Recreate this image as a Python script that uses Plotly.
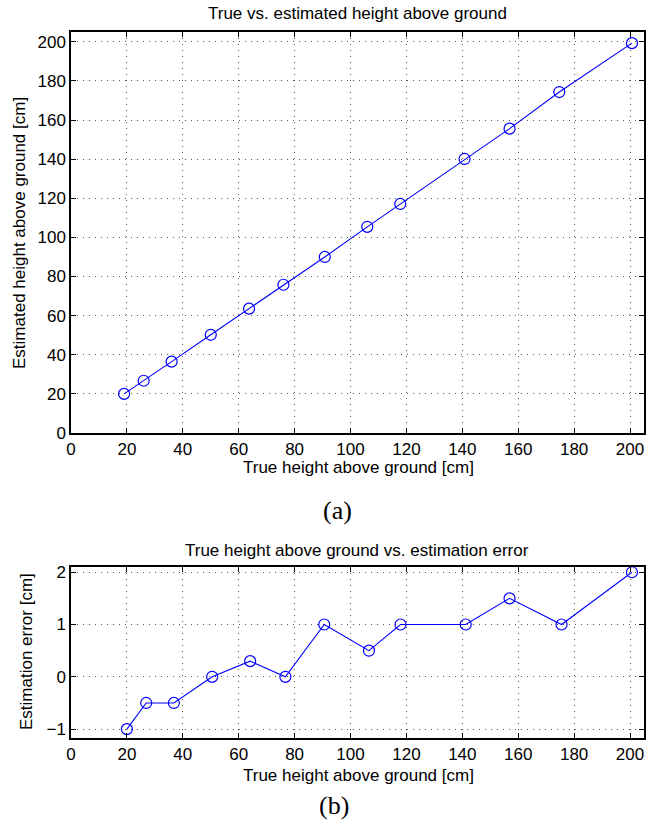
import plotly.graph_objects as go

# Data
true_height = [19, 26, 36, 50, 63.7, 76, 90.8, 106, 117.8, 140.8, 156.9, 174.7, 200.7]
est_height = [20, 26.7, 36.5, 50.2, 63.6, 75.8, 90, 105.4, 117.1, 140.1, 155.6, 174.3, 199.3]
err_x = [20, 26.9, 36.8, 50.5, 64.1, 76.7, 90.6, 106.6, 117.9, 141.2, 156.9, 175.5, 200.7]
err_y = [-1, -0.5, -0.5, 0, 0.3, 0, 1, 0.5, 1, 1, 1.5, 1, 2]

x_ticks = [0, 20, 40, 60, 80, 100, 120, 140, 160, 180, 200]
y1_ticks = [0, 20, 40, 60, 80, 100, 120, 140, 160, 180, 200]
y2_ticks = [-1, 0, 1, 2]

W, H = 646, 822
BLUE = "rgb(0,0,255)"
FONT = "Liberation Sans, Arial, Helvetica, sans-serif"
SERIF = "Liberation Serif, DejaVu Serif, serif"
FS = 17

def px(x):
    return x / W

def py(y):
    return 1 - y / H

fig = go.Figure()
marker = dict(symbol="circle-open", size=11, color=BLUE, line=dict(width=1.2, color=BLUE))
fig.add_trace(go.Scatter(x=true_height, y=est_height, mode="lines+markers",
                         line=dict(color=BLUE, width=1.1), marker=marker,
                         xaxis="x", yaxis="y", showlegend=False, cliponaxis=False))
fig.add_trace(go.Scatter(x=err_x, y=err_y, mode="lines+markers",
                         line=dict(color=BLUE, width=1.1), marker=marker,
                         xaxis="x2", yaxis="y2", showlegend=False, cliponaxis=False))

axis_common = dict(
    showline=True, linecolor="black", linewidth=1.5, mirror="ticks",
    ticks="inside", ticklen=5, tickcolor="black", tickwidth=1,
    showgrid=True, gridcolor="rgba(0,0,0,0.65)", griddash="1px,5px", gridwidth=1,
    zeroline=False, tickfont=dict(family=FONT, size=FS, color="black"),
)

fig.update_layout(
    width=W, height=H,
    margin=dict(l=0, r=0, t=0, b=0, autoexpand=False),
    paper_bgcolor="white", plot_bgcolor="white",
    xaxis=dict(domain=[px(71), px(644)], range=[0, 205], tickvals=x_ticks,
               anchor="y", **axis_common),
    yaxis=dict(domain=[py(433), py(32)], range=[0, 205], tickvals=y1_ticks,
               anchor="x", **axis_common),
    xaxis2=dict(domain=[px(71), px(644)], range=[0, 205], tickvals=x_ticks,
                anchor="y2", **axis_common),
    yaxis2=dict(domain=[py(738), py(567)], range=[-1.17, 2.1], tickvals=y2_ticks,
                anchor="x2", **axis_common),
)

def ann(text, x, y, size=FS, family=FONT, angle=0):
    fig.add_annotation(text=text, x=px(x), y=py(y), xref="paper", yref="paper",
                       showarrow=False, textangle=angle, xanchor="center", yanchor="middle",
                       font=dict(family=family, size=size, color="black"))

ann("True vs. estimated height above ground", 357, 13)
ann("True height above ground [cm]", 358, 467)
ann("Estimated height above ground [cm]", 20, 233, angle=-90)
ann("(a)", 337, 510, size=26, family=SERIF)

ann("True height above ground vs. estimation error", 357, 550)
ann("True height above ground [cm]", 358, 775)
ann("Estimation error [cm]", 26, 652, angle=-90)
ann("(b)", 334, 805, size=26, family=SERIF)

fig.write_html("out.html", config={"displayModeBar": False},
               post_script="document.body.style.margin='0px';")
